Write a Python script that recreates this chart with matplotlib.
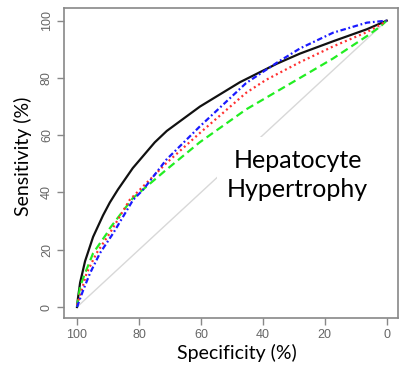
import matplotlib
matplotlib.use("Agg")
import matplotlib.pyplot as plt
from matplotlib.patches import Rectangle

# ROC curves: (specificity %, sensitivity %)
black_spec = [100, 99.7, 99.0, 97.4, 94.8, 91.6, 89.4, 86.8, 82.0, 74.9, 71.0, 60.3, 47.4, 35.4, 28.0, 17.3, 6.4, 0]
black_sens = [0, 3.0, 8.5, 16.0, 24.5, 32.0, 36.5, 41.0, 48.5, 57.5, 61.5, 70.0, 78.5, 85.0, 88.5, 92.8, 97.0, 100]

blue_spec = [100, 98.0, 95.8, 92.6, 88.3, 81.9, 78.7, 71.2, 60.4, 45.4, 35.5, 28.0, 17.3, 6.4, 0]
blue_sens = [0, 5.9, 11.8, 18.8, 25.8, 37.4, 40.9, 51.4, 63.0, 78.2, 85.3, 90.3, 95.8, 99.3, 100]

red_spec = [100, 98.5, 96.9, 93.7, 89.4, 83.0, 71.2, 60.4, 45.4, 39.0, 28.0, 17.3, 6.4, 2.0, 0]
red_sens = [0.6, 5.9, 11.8, 18.8, 25.8, 37.4, 50.2, 60.7, 74.8, 79.3, 85.5, 91.0, 96.0, 98.6, 100]

green_spec = [100, 99.0, 97.4, 94.8, 90.5, 89.4, 82.0, 71.2, 60.4, 45.4, 28.0, 17.3, 6.4, 2.0, 0]
green_sens = [0, 7.1, 11.8, 18.8, 25.5, 27.5, 38.0, 47.9, 57.5, 69.0, 80.0, 86.8, 94.6, 98.0, 100]

ticks = [0, 20, 40, 60, 80, 100]
label = "Hepatocyte\nHypertrophy"

fig = plt.figure(figsize=(4.0, 3.66), dpi=100)
ax = fig.add_axes([0.16, 0.131, 0.835, 0.847])

ax.plot([100, 0], [0, 100], color="#d8d8d8", lw=1.0, zorder=1)
ax.plot(black_spec, black_sens, color="#111111", lw=1.6, zorder=2)
ax.plot(green_spec, green_sens, color="#22ee22", lw=1.6, dashes=(3.5, 2.0), zorder=2)
ax.plot(red_spec, red_sens, color="#ff3030", lw=1.6, dashes=(0.9, 1.4), zorder=2)
ax.plot(blue_spec, blue_sens, color="#1a1aff", lw=1.6, dashes=(2.5, 1.2, 0.8, 1.2), zorder=2)

ax.set_xlim(104.2, -3.65)
ax.set_ylim(-3.85, 104.4)
ax.set_xticks(ticks)
ax.set_yticks(ticks)
ax.set_xticklabels([str(t) for t in ticks], family="Liberation Sans", fontsize=9, color="#666666")
ax.set_yticklabels([str(t) for t in ticks], family="Liberation Sans", fontsize=9, color="#666666",
                   rotation=90, va="center")
ax.tick_params(length=5, width=1.0, color="#888888", pad=3)
for sp in ax.spines.values():
    sp.set_color("#888888")
    sp.set_linewidth(1.2)

ax.set_xlabel("Specificity (%)", family="Lato", fontsize=14)
ax.set_ylabel("Sensitivity (%)", family="Lato", fontsize=14)
ax.xaxis.set_label_coords(0.518, -0.085)
ax.yaxis.set_label_coords(-0.095, 0.523)

# white pasted label box over the lower right part of the plot
ax.add_patch(Rectangle((0.458, 0.02), 0.537, 0.564, transform=ax.transAxes,
                       facecolor="white", edgecolor="none", zorder=2.4))
ax.text(0.70, 0.462, label, transform=ax.transAxes, family="Lato", fontsize=18,
        ha="center", va="center", linespacing=1.3, zorder=3)

fig.savefig("out.png", dpi=100)
